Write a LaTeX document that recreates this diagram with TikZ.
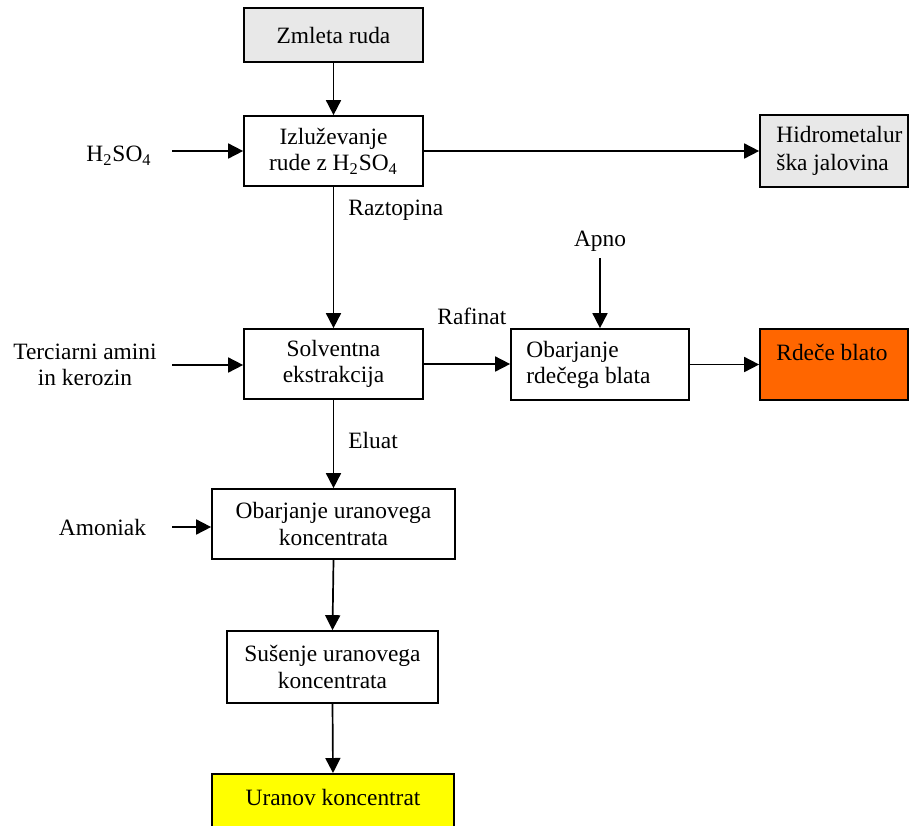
\documentclass[tikz,border=0pt]{standalone}
\usepackage{fontspec}
\setmainfont{Liberation Serif}
\usetikzlibrary{arrows.meta}
\definecolor{boxgray}{HTML}{E8E8E8}
\definecolor{mudorange}{HTML}{FF6600}
\definecolor{uryellow}{HTML}{FFFF00}
\begin{document}
\begin{tikzpicture}[x=0.5pt,y=-0.5pt,
  every node/.style={font=\fontsize{11.7}{13.3}\selectfont},
  box/.style={draw=black,line width=0.85pt,inner sep=0pt,align=center},
  txt/.style={inner sep=0pt,align=center},
  flow/.style={line width=0.85pt,-{Triangle[length=7.5pt,width=7.5pt]}}]
\useasboundingbox (0,0) rectangle (909,825);
\clip (0,0) rectangle (909,825);
% boxes
\node[box,fill=boxgray,minimum width=89.5pt,minimum height=27pt] (zm) at (333.5,35) {Zmleta ruda};
\node[box,minimum width=89.5pt,minimum height=35pt] (izl) at (333.5,151) {Izluževanje\\rude z H\textsubscript{2}SO\textsubscript{4}};
\node[box,fill=boxgray,minimum width=74pt,minimum height=36pt] (hid) at (834,151) {};
\node[box,minimum width=89.5pt,minimum height=35pt] (sol) at (333.5,364) {Solventna\\ekstrakcija};
\node[box,minimum width=89pt,minimum height=35.5pt] (obr) at (600,364.5) {};
\node[box,fill=mudorange,minimum width=74pt,minimum height=35.5pt] (rb) at (834,364.5) {};
\node[box,minimum width=121.5pt,minimum height=35pt] (obu) at (333.5,524) {Obarjanje uranovega\\koncentrata};
\node[box,minimum width=105.5pt,minimum height=36pt] (sus) at (332.5,667) {Sušenje uranovega\\koncentrata};
\node[box,fill=uryellow,minimum width=121pt,minimum height=40pt,anchor=north] (ur) at (333,773) {};
% texts inside left-aligned boxes
\node[txt,anchor=west,align=left,font=\fontsize{11.7}{14}\selectfont] (hidt) at (776,151) {Hidrometalur\\ška jalovina};
\node[txt,anchor=west,align=left] (obrt) at (526,365) {Obarjanje\\rdečega blata};
\node[txt,anchor=west] (rbt) at (776,352) {Rdeče blato};
\node[txt] (urt) at (333,797) {Uranov koncentrat};
% outside labels
\node[txt] (h2so4) at (119,156) {H\textsubscript{2}SO\textsubscript{4}};
\node[txt] (ter) at (85,365) {Terciarni amini\\in kerozin};
\node[txt] (amo) at (102.5,527) {Amoniak};
\node[txt] (apno) at (600,241) {Apno};
\node[txt,anchor=west] (razt) at (348,210) {Raztopina};
\node[txt,anchor=west] (raf) at (437,316) {Rafinat};
\node[txt,anchor=west] (elu) at (348,440) {Eluat};
% connector start points
\coordinate (h2s) at (172,151);
\coordinate (ters) at (172,365);
\coordinate (amos) at (172,527);
\coordinate (apns) at (600,258);
% connectors
\draw[flow] (zm) -- (izl);
\draw[flow] (h2s) -- (izl.west |- h2s);
\draw[flow] (izl.east) -- (hid.west);
\draw[flow] (izl) -- (sol);
\draw[flow] (ters) -- (sol.west |- ters);
\draw[flow] (sol.east) -- (obr.west |- sol.east);
\draw[flow] (apns) -- (obr.north);
\draw[flow] (obr.east) -- (rb.west);
\draw[flow] (sol) -- (obu);
\draw[flow] (amos) -- (obu.west |- amos);
\draw[flow] (obu.south) -- (sus.north);
\draw[flow] (sus.south) -- (ur.north);
\end{tikzpicture}
\end{document}
